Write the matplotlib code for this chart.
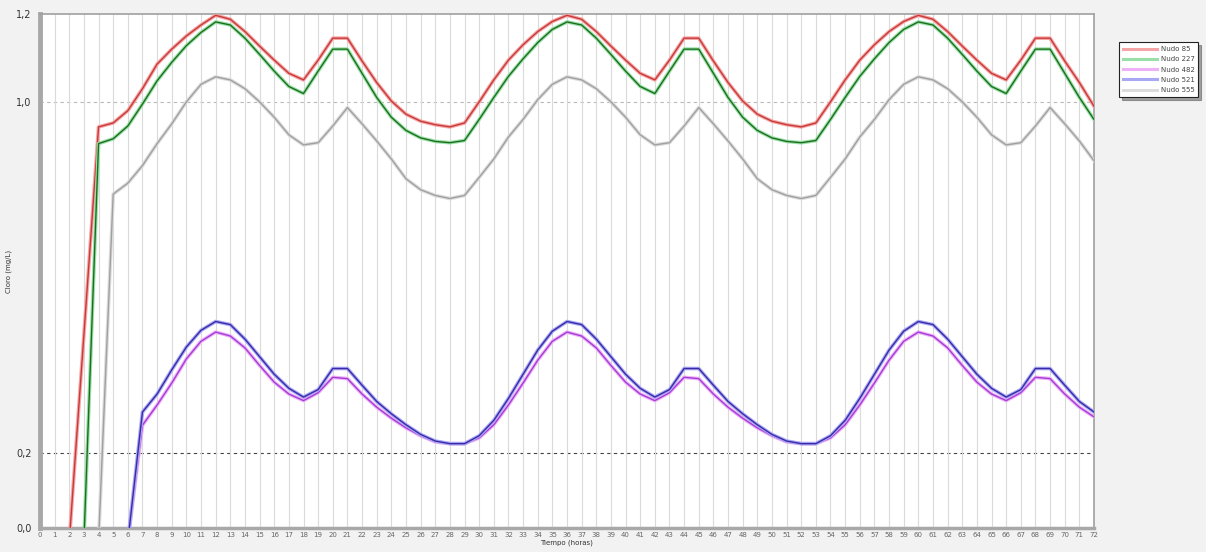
import matplotlib
matplotlib.use("Agg")
import matplotlib.pyplot as plt
import matplotlib.patheffects as pe
from matplotlib.ticker import FixedLocator, FuncFormatter

hours = list(range(0, 73))

nudo_85 = [0, 0, 0, 0.47, 0.943, 0.952, 0.98, 1.03, 1.086, 1.12, 1.15, 1.175, 1.197,
           1.188, 1.16, 1.127, 1.095, 1.065, 1.05, 1.095, 1.145, 1.145, 1.093, 1.044, 1.002,
           0.972, 0.956, 0.948, 0.943, 0.952, 1.0, 1.05, 1.095, 1.13, 1.16, 1.183, 1.197,
           1.188, 1.16, 1.127, 1.095, 1.065, 1.05, 1.095, 1.145, 1.145, 1.093, 1.044, 1.002,
           0.972, 0.956, 0.948, 0.943, 0.952, 1.0, 1.05, 1.095, 1.13, 1.16, 1.183, 1.197,
           1.188, 1.16, 1.127, 1.095, 1.065, 1.05, 1.095, 1.145, 1.145, 1.093, 1.044, 0.99]

nudo_227 = [0, 0, 0, 0, 0.905, 0.916, 0.945, 0.995, 1.048, 1.09, 1.128, 1.158, 1.182,
            1.175, 1.145, 1.108, 1.07, 1.035, 1.019, 1.07, 1.12, 1.12, 1.065, 1.01, 0.965,
            0.935, 0.918, 0.91, 0.907, 0.912, 0.96, 1.01, 1.058, 1.098, 1.135, 1.165, 1.182,
            1.175, 1.145, 1.108, 1.07, 1.035, 1.019, 1.07, 1.12, 1.12, 1.065, 1.01, 0.965,
            0.935, 0.918, 0.91, 0.907, 0.912, 0.96, 1.01, 1.058, 1.098, 1.135, 1.165, 1.182,
            1.175, 1.145, 1.108, 1.07, 1.035, 1.019, 1.07, 1.12, 1.12, 1.065, 1.01, 0.96]

nudo_482 = [0, 0, 0, 0, 0, 0, 0, 0.264, 0.31, 0.36, 0.415, 0.455, 0.476,
            0.467, 0.44, 0.40, 0.362, 0.335, 0.32, 0.338, 0.373, 0.37, 0.335, 0.305, 0.28,
            0.258, 0.24, 0.226, 0.222, 0.222, 0.235, 0.265, 0.31, 0.36, 0.412, 0.455, 0.476,
            0.467, 0.44, 0.40, 0.362, 0.335, 0.32, 0.338, 0.373, 0.37, 0.335, 0.305, 0.28,
            0.258, 0.24, 0.226, 0.222, 0.222, 0.235, 0.265, 0.31, 0.36, 0.412, 0.455, 0.476,
            0.467, 0.44, 0.40, 0.362, 0.335, 0.32, 0.338, 0.373, 0.37, 0.335, 0.305, 0.283]

nudo_521 = [0, 0, 0, 0, 0, 0, 0, 0.294, 0.335, 0.39, 0.442, 0.48, 0.50,
            0.493, 0.46, 0.42, 0.38, 0.348, 0.328, 0.345, 0.393, 0.393, 0.355, 0.318, 0.29,
            0.265, 0.243, 0.228, 0.222, 0.222, 0.24, 0.275, 0.325, 0.38, 0.435, 0.478, 0.50,
            0.493, 0.46, 0.42, 0.38, 0.348, 0.328, 0.345, 0.393, 0.393, 0.355, 0.318, 0.29,
            0.265, 0.243, 0.228, 0.222, 0.222, 0.24, 0.275, 0.325, 0.38, 0.435, 0.478, 0.50,
            0.493, 0.46, 0.42, 0.38, 0.348, 0.328, 0.345, 0.393, 0.393, 0.355, 0.318, 0.294]

nudo_555 = [0, 0, 0, 0, 0, 0.79, 0.815, 0.855, 0.905, 0.95, 1.0, 1.04, 1.057,
            1.05, 1.03, 1.0, 0.965, 0.925, 0.902, 0.907, 0.945, 0.987, 0.95, 0.911, 0.87,
            0.825, 0.80, 0.787, 0.78, 0.787, 0.828, 0.87, 0.92, 0.96, 1.005, 1.04, 1.057,
            1.05, 1.03, 1.0, 0.965, 0.925, 0.902, 0.907, 0.945, 0.987, 0.95, 0.911, 0.87,
            0.825, 0.80, 0.787, 0.78, 0.787, 0.828, 0.87, 0.92, 0.96, 1.005, 1.04, 1.057,
            1.05, 1.03, 1.0, 0.965, 0.925, 0.902, 0.907, 0.945, 0.987, 0.95, 0.911, 0.866]

series_labels = ["Nudo 85", "Nudo 227", "Nudo 482", "Nudo 521", "Nudo 555"]
y_ticks = [0.03, 0.2, 1.0, 1.2]
x_label = "Tiempo (horas)"
y_label = "Cloro (mg/L)"

fig = plt.figure(figsize=(12.06, 5.52), dpi=100)
fig.patch.set_facecolor("#f2f2f2")
ax = fig.add_axes([40 / 1206, 1 - 528 / 552, (1094 - 40) / 1206, (528 - 14) / 552])
ax.set_facecolor("white")

ax.set_xlim(0, 72)
ax.set_ylim(0.03, 1.2)
ax.xaxis.set_major_locator(FixedLocator(hours))
ax.grid(axis="x", color="#dadada", linewidth=0.8, linestyle="-")
ax.axhline(0.2, color="#444444", linewidth=0.8, linestyle=(0, (3, 3)), zorder=1)
ax.axhline(1.0, color="#b8b8b8", linewidth=0.8, linestyle=(0, (3, 3)), zorder=1)

styles = [
    ("#c83a3a", "#f5a5a5"),
    ("#1e6e1e", "#98e0a8"),
    ("#a43cd8", "#eeb0f6"),
    ("#3a2aa8", "#a8a8f4"),
    ("#a0a0a0", "#dcdcdc"),
]
data = [nudo_85, nudo_227, nudo_482, nudo_521, nudo_555]
order = [4, 0, 1, 2, 3]
for i in order:
    core, halo = styles[i]
    ax.plot(hours, data[i], color=core, linewidth=1.0, zorder=3 + i,
            path_effects=[pe.Stroke(linewidth=2.6, foreground=halo), pe.Normal()])

ax.yaxis.set_major_locator(FixedLocator(y_ticks))
ax.yaxis.set_major_formatter(FuncFormatter(lambda v, p: f"{v:.1f}".replace(".", ",")))
ax.xaxis.set_major_formatter(FuncFormatter(lambda v, p: f"{int(v)}"))
ax.tick_params(axis="y", labelsize=7, length=0, pad=6, colors="#333333")
ax.tick_params(axis="x", labelsize=5, length=0, pad=3, colors="#666666")

for s in ["top", "right"]:
    ax.spines[s].set_color("#a0a0a0")
    ax.spines[s].set_linewidth(1.2)
ax.spines["left"].set_color("#a8a8a8")
ax.spines["left"].set_linewidth(3.5)
ax.spines["bottom"].set_color("#a8a8a8")
ax.spines["bottom"].set_linewidth(2.5)

ax.set_xlabel(x_label, fontsize=5, color="#333333", labelpad=1)
ax.set_ylabel(y_label, fontsize=5, color="#333333")
ax.yaxis.set_label_coords(-28 / 1054, 0.5)

legend_handles = []
for i in range(5):
    core, halo = styles[i]
    h, = ax.plot([], [], color=halo, linewidth=2.2)
    legend_handles.append(h)
leg = fig.legend(legend_handles, series_labels, loc="upper left",
                 bbox_to_anchor=(1116 / 1206, 1 - 39 / 552), fontsize=5,
                 frameon=True, fancybox=False, shadow=True, handlelength=4.8,
                 labelspacing=0.6, borderpad=0.55, handletextpad=0.6)
leg.get_frame().set_edgecolor("#222222")
leg.get_frame().set_linewidth(0.8)
for t in leg.get_texts():
    t.set_color("#444444")

fig.savefig("out.png", dpi=100, facecolor=fig.get_facecolor())
